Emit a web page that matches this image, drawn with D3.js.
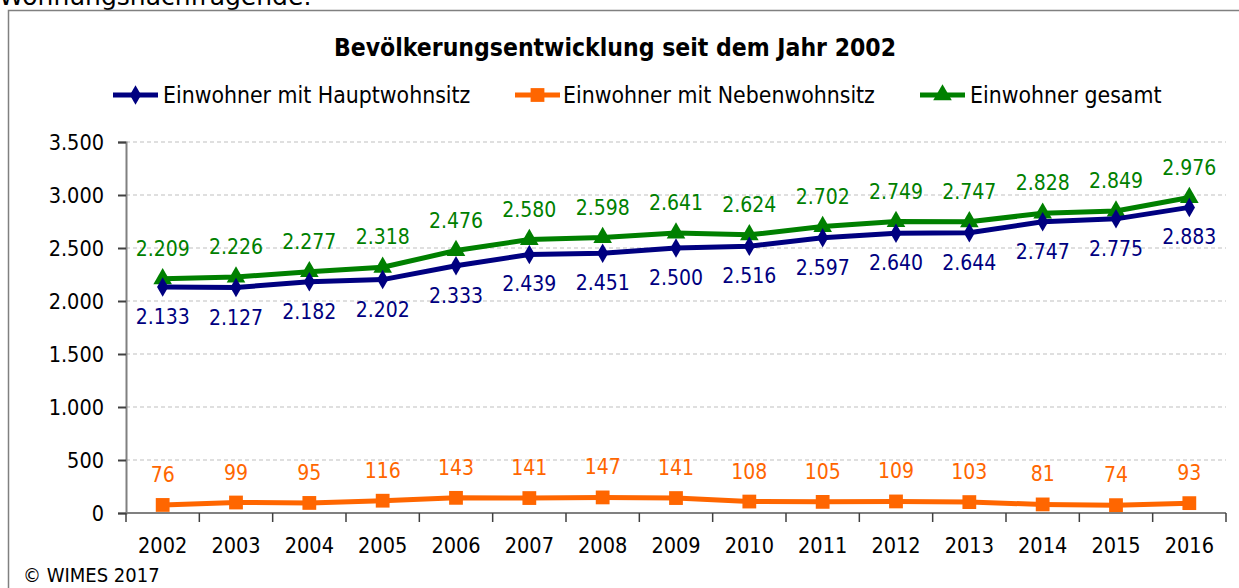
<!DOCTYPE html>
<html><head><meta charset="utf-8">
<script src="https://cdn.jsdelivr.net/npm/d3@7"></script>
<style>html,body{margin:0;padding:0;background:#fff;overflow:hidden}</style>
</head><body>
<svg id="c" width="1239" height="588"></svg>
<script>
const years = ["2002","2003","2004","2005","2006","2007","2008","2009","2010","2011","2012","2013","2014","2015","2016"];
const haupt = [2133,2127,2182,2202,2333,2439,2451,2500,2516,2597,2640,2644,2747,2775,2883];
const neben = [76,99,95,116,143,141,147,141,108,105,109,103,81,74,93];
const gesamt = [2209,2226,2277,2318,2476,2580,2598,2641,2624,2702,2749,2747,2828,2849,2976];
const yTicks = [0,500,1000,1500,2000,2500,3000,3500];
const seriesNames = ["Einwohner mit Hauptwohnsitz","Einwohner mit Nebenwohnsitz","Einwohner gesamt"];
const titleText = "Bevölkerungsentwicklung seit dem Jahr 2002";
const topText = "Wohnungsnachfragende:";
const credit = "© WIMES 2017";

const loc = d3.formatLocale({decimal:",", thousands:".", grouping:[3], currency:["","€"]});
const fmt = loc.format(",");
const FONT = "'DejaVu Sans Condensed','DejaVu Sans',sans-serif";

const svg = d3.select("#c");
svg.append("text").attr("x",-1).attr("y",5).attr("font-family","'DejaVu Sans',sans-serif")
  .attr("font-size",25).attr("fill","#000").text(topText);
svg.append("rect").attr("x",8.5).attr("y",10.5).attr("width",1300).attr("height",700)
  .attr("fill","none").attr("stroke","#808080").attr("stroke-width",1.5);

const x = d3.scaleBand().domain(years).range([126,1226]).padding(0);
const y = d3.scaleLinear().domain([0,3500]).range([513,142]);
const cx = d => x(d) + x.bandwidth()/2;

// grid
svg.append("g").selectAll("line").data(yTicks.filter(d=>d>0)).join("line")
  .attr("x1",126).attr("x2",1226).attr("y1",d=>y(d)).attr("y2",d=>y(d))
  .attr("stroke","#c0c0c0").attr("stroke-width",1.2).attr("stroke-dasharray","4,3");

// y axis
const ya = svg.append("g").attr("transform","translate(126,0)")
  .call(d3.axisLeft(y).tickValues(yTicks).tickSize(8).tickPadding(14).tickFormat(fmt));
ya.select(".domain").attr("stroke","#808080").attr("stroke-width",2);
ya.selectAll(".tick line").attr("stroke","#404040").attr("stroke-width",2);
ya.selectAll(".tick text").attr("font-family",FONT).attr("font-size",21.5).attr("fill","#000").attr("dy","0.36em");

// x axis
const xa = svg.append("g").attr("transform","translate(0,513)");
xa.append("line").attr("x1",126).attr("x2",1226).attr("stroke","#808080").attr("stroke-width",2);
const bounds = years.map(d=>x(d)).concat([x.range()[1]]);
xa.selectAll("line.t").data(bounds).join("line").attr("class","t")
  .attr("x1",d=>d).attr("x2",d=>d).attr("y1",0).attr("y2",9).attr("stroke","#404040").attr("stroke-width",1.5);
xa.selectAll("text").data(years).join("text").attr("x",d=>cx(d)).attr("y",40)
  .attr("text-anchor","middle").attr("font-family",FONT).attr("font-size",21.5).attr("fill","#000").text(d=>d);

const series = [
  {name:seriesNames[0], vals:haupt, color:"#000080", marker:"diamond", off:37},
  {name:seriesNames[1], vals:neben, color:"#FF6600", marker:"square", off:-23},
  {name:seriesNames[2], vals:gesamt, color:"#008000", marker:"triangle", off:-23}
];
const sym = {diamond:d3.symbol().type(d3.symbolDiamond).size(110),
  square:d3.symbol().type(d3.symbolSquare).size(190),
  triangle:d3.symbol().type(d3.symbolTriangle).size(150)};

const line = d3.line().x((d,i)=>cx(years[i])).y(d=>y(d));
[series[1],series[2],series[0]].forEach(s=>{
  const g = svg.append("g");
  g.append("path").attr("d",line(s.vals)).attr("fill","none").attr("stroke",s.color).attr("stroke-width",5).attr("stroke-linejoin","round");
  g.selectAll("path.m").data(s.vals).join("path").attr("class","m")
    .attr("transform",(d,i)=>`translate(${cx(years[i])},${y(d)})`).attr("d",sym[s.marker]()).attr("fill",s.color);
});
series.forEach(s=>{
  svg.append("g").selectAll("text").data(s.vals).join("text")
    .attr("x",(d,i)=>cx(years[i])).attr("y",d=>y(d)+s.off)
    .attr("text-anchor","middle").attr("font-family",FONT).attr("font-size",21).attr("fill",s.color).text(d=>fmt(d));
});

// title
svg.append("text").attr("x",615).attr("y",56).attr("text-anchor","middle").attr("font-family",FONT)
  .attr("font-weight","bold").attr("font-size",24.5).attr("fill","#000").text(titleText);

// legend
const leg = [{x:113,tx:163},{x:515,tx:563},{x:920,tx:970}];
series.forEach((s,i)=>{
  const g = svg.append("g");
  g.append("line").attr("x1",leg[i].x).attr("x2",leg[i].x+45).attr("y1",95).attr("y2",95).attr("stroke",s.color).attr("stroke-width",5);
  g.append("path").attr("transform",`translate(${leg[i].x+22.5},95)`).attr("d",sym[s.marker]()).attr("fill",s.color);
  g.append("text").attr("x",leg[i].tx).attr("y",103).attr("font-family",FONT).attr("font-size",22.8).attr("fill","#000").text(s.name);
});

svg.append("text").attr("x",23).attr("y",582).attr("font-family",FONT).attr("font-size",20).attr("fill","#000").text(credit);
</script>
</body></html>
